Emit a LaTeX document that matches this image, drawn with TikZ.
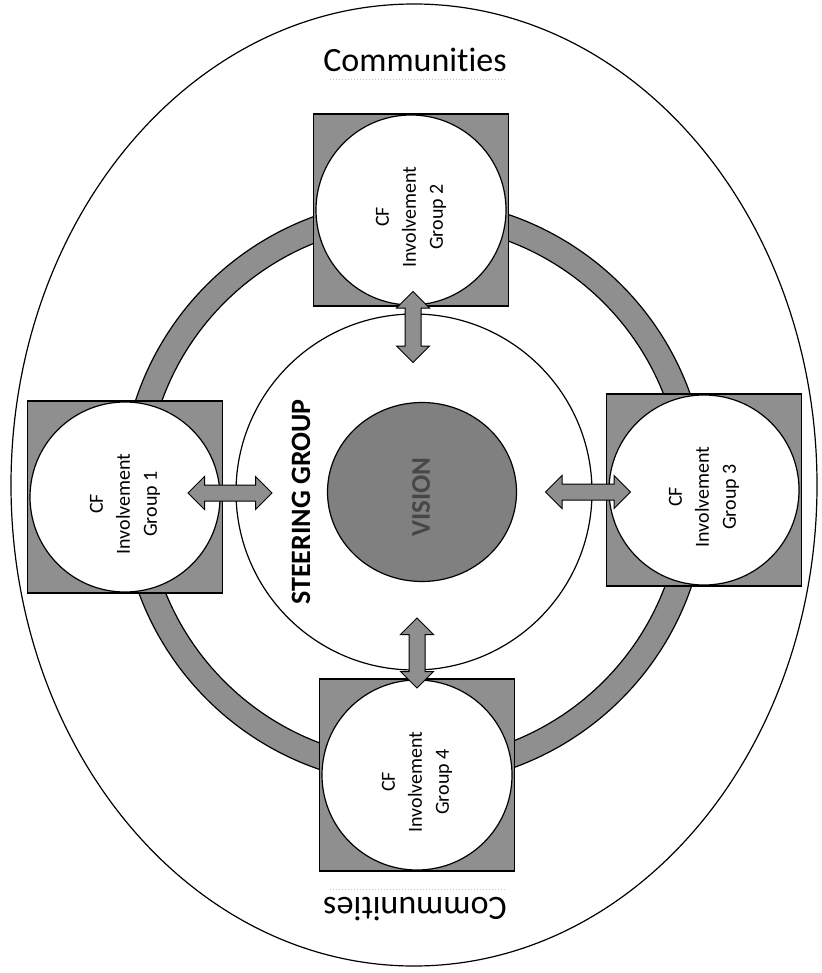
\documentclass[tikz,border=0pt]{standalone}
\usepackage{fontspec}
\setmainfont{Carlito}[Ligatures=CommonOff]
\usetikzlibrary{shapes.arrows,shapes.geometric}
\definecolor{shade}{gray}{0.56}
\definecolor{visionfill}{gray}{0.5}
\definecolor{visiontext}{gray}{0.28}
\tikzset{
  sqbox/.style={draw, line width=1.2pt, fill=shade, minimum width=195pt, minimum height=192pt, inner sep=0pt},
  grp/.style={circle, draw, line width=1.2pt, fill=white, minimum size=190pt, inner sep=0pt},
  grptext/.style={rotate=90, align=center, inner sep=0pt, font=\fontsize{20}{27}\selectfont},
  comtext/.style={inner sep=0pt, anchor=base, font=\fontsize{34}{40}\selectfont},
  dblarrow/.style={double arrow, draw, line width=1pt, fill=shade, inner xsep=0pt, inner ysep=7.5pt,
    double arrow head extend=8.5pt}
}
\begin{document}
\begin{tikzpicture}[x=1pt,y=1pt]
        \useasboundingbox (0,0) rectangle (821,-973);
        %% Communities
        \draw[line width=1.2pt] (414,-485) ellipse (403pt and 481pt);
        \node[comtext] (topcom) at (415,-72) {Communities};
        \node[comtext, rotate=180] (botcom) at (415,-897) {Communities};
        \draw[gray!45, line width=1pt, dotted] (330,-80) -- (505,-80);
        \draw[gray!45, line width=1pt, dotted] (330,-889) -- (505,-889);
        %% Ring
        \draw[line width=1.2pt, fill=shade, even odd rule] (414,-492) circle (293pt) (414,-492) circle (268pt);
        %% Steering group
        \node[circle, draw, line width=1.2pt, fill=white, minimum size=356pt] (steer) at (414,-492) {};
        \node[rotate=90, font=\fontsize{28}{32}\bfseries] (steertext) at (301,-502) {STEERING GROUP};
        \node[ellipse, draw, line width=1.2pt, fill=visionfill, minimum width=189pt, minimum height=179pt, inner sep=0pt] (vision) at (422,-492) {};
        \node[rotate=90, text=visiontext, font=\fontsize{27}{30}\bfseries] (visiontext) at (421,-497) {VISION};
        %% Involvement groups
        \foreach \n/\x/\y in {1/125/497, 2/411/210, 3/704/490, 4/417/775} {
            \node[sqbox] (sq\n) at (\x,-\y) {};
            \node[grp] (g\n) at (\x,-\y) {};
            \node[grptext] (gt\n) at (\x,-\y-7) {CF\\Involvement\\Group \n};
        }
        %% Arrows
        \foreach \n/\x/\y/\a/\l in {1/230/493/0/84, 2/413/327/90/71, 3/588/492/0/85, 4/417/653/90/70}
            \node[dblarrow, rotate=\a, minimum height=\l pt] (arr\n) at (\x,-\y) {};
\end{tikzpicture}
\end{document}
